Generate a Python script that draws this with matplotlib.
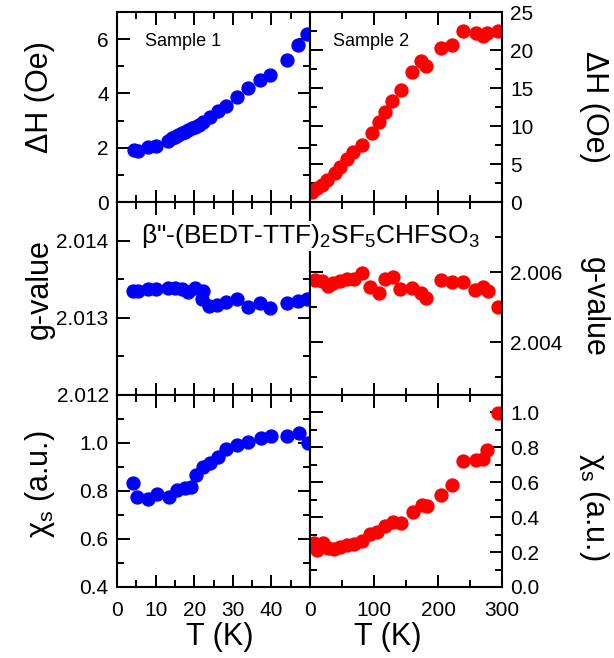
import matplotlib
matplotlib.use('Agg')
import matplotlib.pyplot as plt
from matplotlib.ticker import MultipleLocator, FixedLocator

plt.rcParams['font.family'] = ['Liberation Sans', 'DejaVu Sans']
plt.rcParams['mathtext.fontset'] = 'custom'
plt.rcParams['mathtext.rm'] = 'Liberation Sans'
plt.rcParams['mathtext.it'] = 'Liberation Sans:italic'
plt.rcParams['mathtext.default'] = 'rm'

# sample 1 (low temperature, blue)
t1_dh = [4.4, 5.5, 8.1, 10.1, 13.3, 14.2, 15.0, 15.9, 16.8, 17.7, 18.5, 19.4, 20.2,
         21.2, 22.2, 24.1, 26.2, 28.2, 31.0, 34.0, 37.0, 39.6, 44.0, 47.0, 49.3]
dh1 = [1.92, 1.89, 2.01, 2.06, 2.26, 2.34, 2.41, 2.47, 2.53, 2.59, 2.65, 2.71, 2.77,
       2.85, 2.96, 3.14, 3.36, 3.54, 3.86, 4.19, 4.50, 4.68, 5.23, 5.78, 6.19]

t1_g = [4.2, 5.5, 8.1, 10.1, 13.3, 15.0, 16.8, 18.5, 20.2, 21.9, 22.2, 23.9, 26.0,
        28.2, 31.0, 34.0, 37.0, 39.6, 44.0, 47.0, 49.3]
g1 = [2.01335, 2.01335, 2.01337, 2.01337, 2.01338, 2.01338, 2.01337, 2.01333, 2.01339,
      2.01325, 2.01335, 2.01315, 2.01317, 2.01320, 2.01324, 2.01314, 2.01319, 2.01313,
      2.01319, 2.01322, 2.01324]

t1_chi = [4.2, 5.3, 8.1, 10.3, 13.5, 15.5, 17.6, 19.1, 20.5, 22.2, 24.1, 26.2, 28.2,
          31.0, 34.0, 37.2, 39.8, 44.0, 47.2, 49.6]
chi1 = [0.835, 0.774, 0.765, 0.788, 0.776, 0.804, 0.811, 0.815, 0.867, 0.899, 0.918,
        0.943, 0.974, 0.992, 1.005, 1.020, 1.029, 1.029, 1.043, 0.999]

# sample 2 (wide temperature range, red)
t2_dh = [2.6, 5.2, 10.4, 18.2, 26.0, 39.0, 46.9, 57.3, 67.7, 80.7, 96.4, 107.8, 117.2,
         128.6, 141.7, 159.9, 173.4, 180.7, 204.7, 221.4, 239.6, 258.9, 270.8, 276.1, 293.3]
dh2 = [1.36, 1.58, 1.80, 2.24, 2.90, 3.77, 4.56, 5.61, 6.62, 7.50, 9.12, 10.57, 11.9,
       13.3, 14.7, 17.1, 18.6, 17.9, 20.2, 20.7, 22.5, 22.2, 21.8, 22.3, 22.5]

t2_g = [7.8, 18.2, 27.6, 36.5, 46.9, 57.3, 69.3, 81.8, 93.8, 107.8, 117.2, 130.2, 140.6,
        159.9, 173.4, 180.7, 204.7, 221.4, 239.6, 257.8, 270.8, 277.7, 293.3]
g2 = [2.00577, 2.00574, 2.00561, 2.00569, 2.00574, 2.00581, 2.00581, 2.00598, 2.00559,
      2.00540, 2.00581, 2.00587, 2.00552, 2.00555, 2.00542, 2.00526, 2.00577, 2.00571,
      2.00571, 2.00550, 2.00559, 2.00545, 2.00501]

t2_chi = [6.7, 10.4, 20.8, 28.6, 38.0, 46.9, 57.3, 69.3, 80.7, 93.8, 104.2, 117.2, 130.2,
          142.2, 161.4, 174.5, 182.3, 204.7, 221.4, 239.6, 258.9, 270.8, 276.1, 294.3]
chi2 = [0.250, 0.210, 0.253, 0.221, 0.215, 0.230, 0.240, 0.246, 0.265, 0.303, 0.316,
        0.349, 0.373, 0.368, 0.430, 0.469, 0.463, 0.526, 0.583, 0.722, 0.726, 0.735,
        0.783, 0.996]

W, H = 614, 658
fig = plt.figure(figsize=(W / 100, H / 100), dpi=100)


def px_axes(x0, y0, x1, y1):
    return fig.add_axes([x0 / W, 1 - y1 / H, (x1 - x0) / W, (y1 - y0) / H])


def style(ax):
    for s in ax.spines.values():
        s.set_linewidth(1.5)
    ax.tick_params(which='both', direction='in', top=True, right=True, width=1.4,
                   labelsize=15)
    ax.tick_params(which='major', length=9)
    ax.tick_params(which='minor', length=5)
    ax.tick_params(axis='x', which='both', pad=10)
    ax.tick_params(axis='y', which='both', pad=6)


rows = [(12, 202), (202, 395), (395, 587)]
axl = [px_axes(117, r[0], 310, r[1]) for r in rows]
axr = [px_axes(310, r[0], 502, r[1]) for r in rows]

ms = 9.3
axl[0].plot(t1_dh, dh1, 'o', color='#0000ff', ms=ms)
axl[1].plot(t1_g, g1, 'o', color='#0000ff', ms=ms)
axl[2].plot(t1_chi, chi1, 'o', color='#0000ff', ms=ms)
axr[0].plot(t2_dh, dh2, 'o', color='#ff0000', ms=ms)
axr[1].plot(t2_g, g2, 'o', color='#ff0000', ms=ms)
axr[2].plot(t2_chi, chi2, 'o', color='#ff0000', ms=ms)

for ax in axl:
    style(ax)
    ax.set_xlim(0, 50)
    ax.xaxis.set_major_locator(FixedLocator([0, 10, 20, 30, 40]))
    ax.xaxis.set_minor_locator(MultipleLocator(5))
for ax in axr:
    style(ax)
    ax.set_xlim(0, 300)
    ax.xaxis.set_major_locator(MultipleLocator(100))
    ax.xaxis.set_minor_locator(MultipleLocator(50))
    ax.tick_params(which='both', labelleft=False, labelright=True)

for ax in axl[:2] + axr[:2]:
    ax.tick_params(which='both', labelbottom=False)

axl[0].set_ylim(0, 7)
axl[0].yaxis.set_major_locator(FixedLocator([0, 2, 4, 6]))
axl[0].yaxis.set_minor_locator(MultipleLocator(1))

axl[1].set_ylim(2.012, 2.0145)
axl[1].yaxis.set_major_locator(FixedLocator([2.012, 2.013, 2.014]))
axl[1].yaxis.set_minor_locator(MultipleLocator(0.0005))
axl[1].yaxis.set_major_formatter(plt.FormatStrFormatter('%.3f'))

axl[2].set_ylim(0.4, 1.2)
axl[2].yaxis.set_major_locator(FixedLocator([0.4, 0.6, 0.8, 1.0]))
axl[2].yaxis.set_minor_locator(MultipleLocator(0.1))
axl[2].yaxis.set_major_formatter(plt.FormatStrFormatter('%.1f'))

axr[0].set_ylim(0, 25)
axr[0].yaxis.set_major_locator(MultipleLocator(5))
axr[0].yaxis.set_minor_locator(MultipleLocator(2.5))

axr[1].set_ylim(2.0025, 2.008)
axr[1].yaxis.set_major_locator(FixedLocator([2.004, 2.006]))
axr[1].yaxis.set_minor_locator(FixedLocator([2.003, 2.005, 2.007]))
axr[1].yaxis.set_major_formatter(plt.FormatStrFormatter('%.3f'))

axr[2].set_ylim(0, 1.1)
axr[2].yaxis.set_major_locator(FixedLocator([0, 0.2, 0.4, 0.6, 0.8, 1.0]))
axr[2].yaxis.set_minor_locator(MultipleLocator(0.1))
axr[2].yaxis.set_major_formatter(plt.FormatStrFormatter('%.1f'))

lab = 22
fig.text(40 / W, 1 - 97 / H, 'ΔH (Oe)', rotation=90, ha='center', va='center', fontsize=lab)
fig.text(40 / W, 1 - 289 / H, 'g-value', rotation=90, ha='center', va='center', fontsize=lab)
fig.text(40 / W, 1 - 484 / H, 'χ$_{\\rm s}$ (a.u.)', rotation=90, ha='center', va='center', fontsize=lab)
fig.text(594 / W, 1 - 107 / H, 'ΔH (Oe)', rotation=270, ha='center', va='center', fontsize=lab)
fig.text(594 / W, 1 - 307 / H, 'g-value', rotation=270, ha='center', va='center', fontsize=lab)
fig.text(594 / W, 1 - 507 / H, 'χ$_{\\rm s}$ (a.u.)', rotation=270, ha='center', va='center', fontsize=lab)
fig.text(220 / W, 1 - 637 / H, 'T (K)', ha='center', va='center', fontsize=lab)
fig.text(388 / W, 1 - 637 / H, 'T (K)', ha='center', va='center', fontsize=lab)

fig.text(145 / W, 1 - 42 / H, 'Sample 1', ha='left', va='center', fontsize=13)
fig.text(333 / W, 1 - 42 / H, 'Sample 2', ha='left', va='center', fontsize=13)
fig.text(141 / W, 1 - 236 / H, 'β"-(BEDT-TTF)$_2$SF$_5$CHFSO$_3$', ha='left', va='center',
         fontsize=19, zorder=10,
         bbox=dict(facecolor='white', edgecolor='none', pad=1))

fig.savefig('out.png', dpi=100)
